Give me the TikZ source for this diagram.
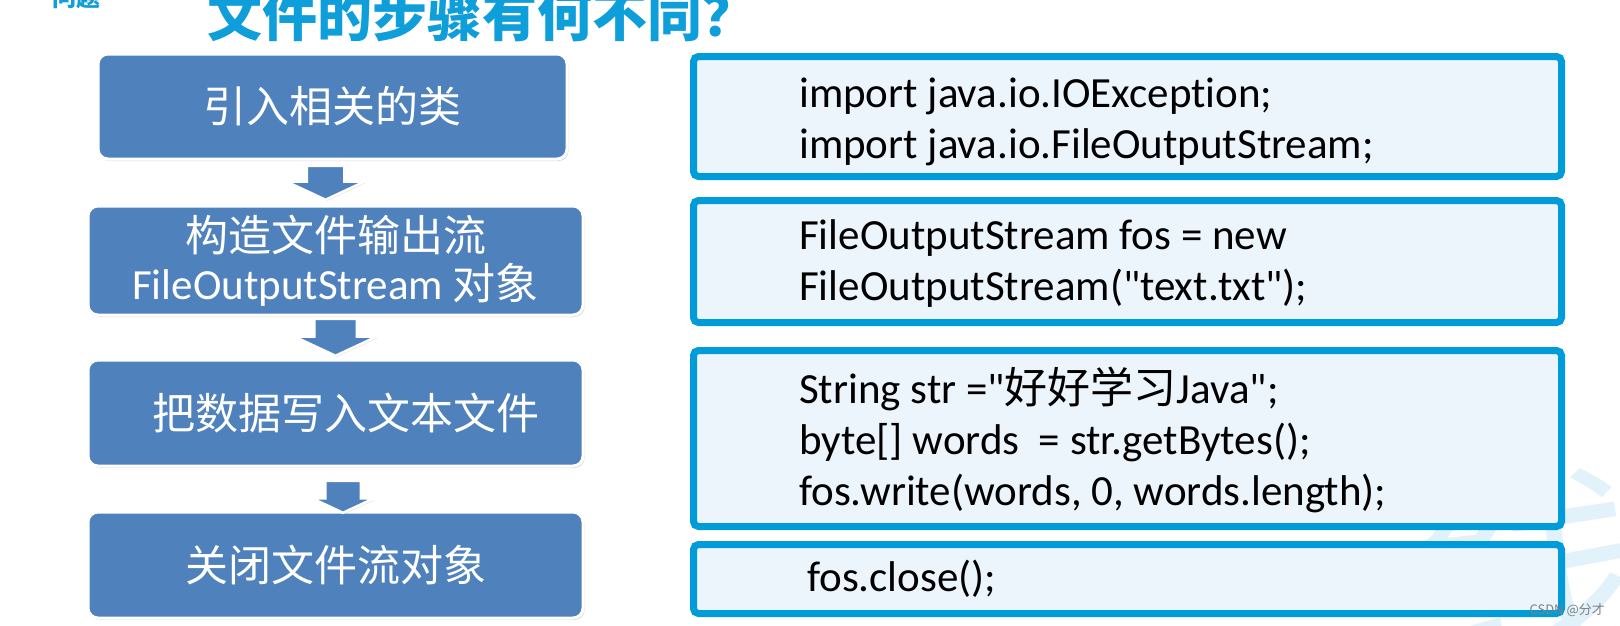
\documentclass[tikz,border=0pt]{standalone}
\usepackage{fontspec}
\setmainfont{Carlito}[Ligatures={TeXOff,NoCommon}]
\newfontfamily\cjk{Noto Sans CJK SC}
\usetikzlibrary{shapes.arrows, shadows}
\usetikzlibrary{positioning}
\definecolor{stepblue}{RGB}{79,129,189}
\definecolor{codeline}{RGB}{0,155,217}
\definecolor{codefill}{RGB}{237,245,252}
\definecolor{titleblue}{RGB}{14,158,218}
\definecolor{markblue}{RGB}{226,242,250}
\newcommand\codefont{\fontsize{43}{51}\selectfont}
\newcommand\stepfont{\cjk\fontsize{43}{48}\selectfont}
\tikzstyle{stepbox} = [rectangle, rounded corners=10pt, fill=stepblue, draw=white, line width=3pt,
text=white, font=\stepfont, align=center, drop shadow={shadow xshift=1.5pt, shadow yshift=-2pt, opacity=.3}]
\tikzstyle{flowarrow} = [single arrow, shape border rotate=270, fill=stepblue, draw=white, line width=2.5pt,
inner xsep=17.5pt, inner ysep=0pt, single arrow head extend=20pt, single arrow tip angle=130, minimum width=75pt,
minimum height=34pt, drop shadow={shadow xshift=1pt, shadow yshift=-1.5pt, opacity=.25}]
\tikzstyle{codebox} = [rectangle, rounded corners=5pt, fill=codefill, draw=codeline, line width=7pt,
minimum width=868pt, drop shadow={shadow xshift=1pt, shadow yshift=-1pt, opacity=.15}]
\tikzstyle{codetext} = [anchor=west, align=left, inner sep=0pt, font=\codefont]

\begin{document}
\begin{tikzpicture}[x=1pt, y=-1pt]
  \fill[white] (0,0) rectangle (1620,625);
  \clip (0,0) rectangle (1620,625);

  \node (mark) [text=markblue, font=\cjk\fontsize{220}{220}\selectfont] at (1525,565) {线};

  \node (tag) [anchor=base west, inner sep=0pt, text=titleblue, font=\cjk\bfseries\fontsize{24}{24}\selectfont] at (52,6) {问题};
  \node (title) [anchor=base west, inner sep=0pt, text=titleblue, font=\cjk\bfseries\fontsize{55}{55}\selectfont] at (207,36) {文件的步骤有何不同？};

  \node (b1) [stepbox, minimum width=469pt, minimum height=105pt] at (332.5,106.5) {引入相关的类};
  \node (b2) [stepbox, below=44pt of b1, xshift=3pt, minimum width=495pt, minimum height=109pt]
  {构造文件输出流\\{\rmfamily FileOutputStream} 对象};
  \node (b3) [stepbox, below=42pt of b2, minimum width=495pt, minimum height=106pt]
  {\raisebox{-14pt}{\hspace{20pt}把数据写入文本文件}};
  \node (b4) [stepbox, below=43pt of b3, minimum width=495pt, minimum height=106pt] {关闭文件流对象};

  \node (a1) [flowarrow, below=4pt of b1, xshift=-7pt] {};
  \node (a2) [flowarrow, below=1pt of b2, inner xsep=20pt, minimum height=37pt] {};
  \node (a3) [flowarrow, below=12pt of b3, xshift=7.5pt, inner xsep=16.5pt, minimum width=60pt,
  single arrow head extend=13pt, minimum height=32pt] {};

  \node (cA) [codebox, minimum height=120pt] at (1127.5,116.5) {};
  \node (cB) [codebox, below=17pt of cA, minimum height=122pt] {};
  \node (cC) [codebox, below=21pt of cB, minimum height=176pt] {};
  \node (cD) [codebox, below=11pt of cC, minimum height=69pt] {};

  \node (tA) [codetext] at ([xshift=109pt, yshift=-5pt]cA.west) {import java.io.IOException;\\import java.io.FileOutputStream;};
  \node (tB) [codetext] at ([xshift=109pt, yshift=-2pt]cB.west) {FileOutputStream fos = new\\FileOutputStream("text.txt");};
  \node (tC) [codetext] at ([xshift=109pt, yshift=-1pt]cC.west)
  {String str ="{\cjk 好好学习}Java";\\byte[] words\ \ = str.getBytes();\\fos.write(words, 0, words.length);};
  \node (tD) [codetext] at ([xshift=117pt]cD.west) {fos.close();};

  \node (csdn) [anchor=east, inner sep=0pt, text=gray, font=\cjk\fontsize{13}{13}\selectfont] at (1605,610) {CSDN @分才};
\end{tikzpicture}
\end{document}
